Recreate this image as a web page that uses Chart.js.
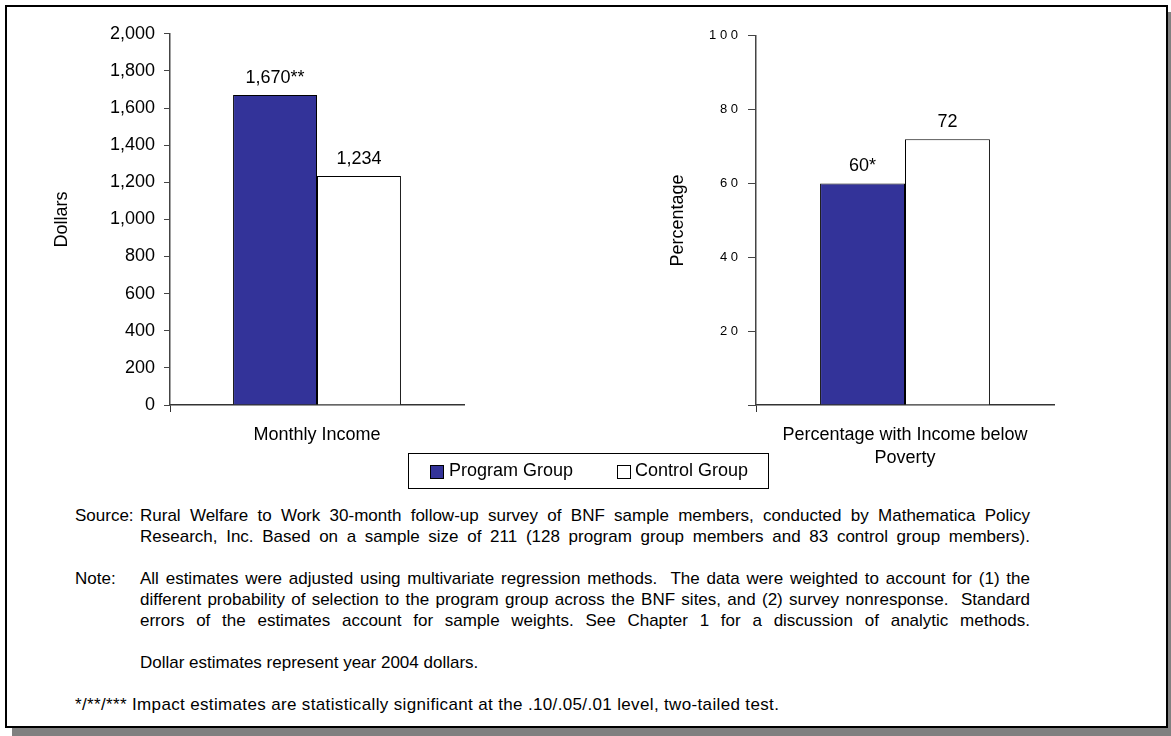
<!DOCTYPE html>
<html lang="en">
<head>
<meta charset="UTF-8">
<title>Monthly Income and Poverty</title>
<script src="https://cdn.jsdelivr.net/npm/chart.js"></script>
<style>
    body { margin: 0; background: #fff; font-family: "Liberation Sans", Arial, sans-serif; }
    #shadow { position: absolute; left: 12px; top: 12px; width: 1159px; height: 724px; background: #808080; }
    #frame { position: absolute; left: 5px; top: 5px; width: 1163px; height: 723px; box-sizing: border-box; border: 2px solid #000; background: #fff; }
    .box { position: absolute; }
    #legend { position: absolute; left: 408px; top: 453px; width: 361px; height: 36px; box-sizing: border-box; border: 1px solid #000; font-size: 18px; }
    #legend span.sw { position: absolute; top: 11px; width: 14px; height: 14px; box-sizing: border-box; border: 1px solid #000; }
    #legend span.tx { position: absolute; top: 6px; white-space: nowrap; }
    .notes { position: absolute; font-size: 17px; line-height: 21px; color: #000; }
    .lbl { position: absolute; left: 75px; white-space: nowrap; }
    .txt { position: absolute; left: 140px; width: 890px; }
    .txt div { white-space: nowrap; }
    .txt div.j { text-align: justify; text-align-last: justify; }
</style>
</head>
<body>
<div id="shadow"></div>
<div id="frame"></div>

<div class="box" style="left:20px;top:14px;width:450px;height:436px"><canvas id="incomeChart"></canvas></div>
<div class="box" style="left:600px;top:18px;width:470px;height:462px"><canvas id="povertyChart"></canvas></div>

<div id="legend">
    <span class="sw" style="left:21px;background:#333399"></span><span class="tx" style="left:40px">Program Group</span>
    <span class="sw" style="left:208px;background:#fff"></span><span class="tx" style="left:226px">Control Group</span>
</div>

<div class="notes" style="top:505px;left:0;width:1171px">
    <div class="lbl">Source:</div>
    <div class="txt">
        <div class="j">Rural Welfare to Work 30-month follow-up survey of BNF sample members, conducted by Mathematica Policy</div>
        <div class="j">Research, Inc. Based on a sample size of 211 (128 program group members and 83 control group members).</div>
    </div>
</div>
<div class="notes" style="top:568px;left:0;width:1171px">
    <div class="lbl">Note:</div>
    <div class="txt">
        <div class="j">All estimates were adjusted using multivariate regression methods.&nbsp; The data were weighted to account for (1) the</div>
        <div class="j">different probability of selection to the program group across the BNF sites, and (2) survey nonresponse.&nbsp; Standard</div>
        <div class="j">errors of the estimates account for sample weights. See Chapter 1 for a discussion of analytic methods.</div>
    </div>
</div>
<div class="notes" style="top:652px;left:0;width:1171px">
    <div class="txt">Dollar estimates represent year 2004 dollars.</div>
</div>
<div class="notes" style="top:694px;left:0;width:1171px">
    <div class="lbl" style="letter-spacing:0.35px">*/**/*** Impact estimates are statistically significant at the .10/.05/.01 level, two-tailed test.</div>
</div>

<script>
    // data
    var groups = ['Program Group', 'Control Group'];
    var groupColors = ['#333399', '#ffffff'];

    var incomeCategory = ['Monthly Income'];
    var incomeProgram = [1670];
    var incomeControl = [1234];
    var incomeStars = [['**'], ['']];
    var incomeTicks = [0, 200, 400, 600, 800, 1000, 1200, 1400, 1600, 1800, 2000];

    var povertyCategory = [['Percentage with Income below', 'Poverty']];
    var povertyProgram = [60];
    var povertyControl = [72];
    var povertyStars = [['*'], ['']];
    var povertyTicks = [0, 20, 40, 60, 80, 100];

    var FONT = "'Liberation Sans', Arial, sans-serif";

    // values above the bars
    function barLabels(stars) {
        return {
            id: 'barLabels',
            afterDatasetsDraw: function (chart) {
                var ctx = chart.ctx;
                ctx.save();
                ctx.font = '18px ' + FONT;
                ctx.fillStyle = '#000';
                ctx.textAlign = 'center';
                ctx.textBaseline = 'alphabetic';
                chart.data.datasets.forEach(function (ds, i) {
                    var meta = chart.getDatasetMeta(i);
                    meta.data.forEach(function (bar, j) {
                        var txt = ds.data[j].toLocaleString('en-US') + stars[i][j];
                        ctx.fillText(txt, bar.x, bar.y - 12);
                    });
                });
                ctx.restore();
            }
        };
    }

    function makeChart(id, cats, prog, ctrl, ticks, stars, opt) {
        return new Chart(document.getElementById(id), {
            type: 'bar',
            data: {
                labels: cats,
                datasets: [
                    { label: groups[0], data: prog, backgroundColor: groupColors[0], borderColor: '#000', borderWidth: 1 },
                    { label: groups[1], data: ctrl, backgroundColor: groupColors[1], borderColor: '#000', borderWidth: 1 }
                ]
            },
            options: {
                responsive: true,
                maintainAspectRatio: false,
                animation: false,
                categoryPercentage: opt.catPct,
                barPercentage: 1,
                layout: { padding: { top: 0, right: opt.right, left: 0, bottom: 0 } },
                plugins: { legend: { display: false }, tooltip: { enabled: false } },
                scales: {
                    x: {
                        grid: {
                            display: true, drawOnChartArea: false, drawTicks: true, tickLength: 7,
                            tickColor: function (c) { return c.index === 0 ? '#333' : 'rgba(0,0,0,0)'; }
                        },
                        border: { display: true, color: '#333', width: 1.5 },
                        ticks: { color: '#000', padding: 11, font: { size: 18, family: FONT, lineHeight: 1.3 } },
                        afterFit: function (s) { s.height = opt.xh; }
                    },
                    y: {
                        min: 0,
                        max: ticks[ticks.length - 1],
                        afterBuildTicks: function (s) { s.ticks = ticks.map(function (v) { return { value: v }; }); },
                        grid: { display: true, drawOnChartArea: false, drawTicks: true, tickLength: opt.tl, tickColor: '#444' },
                        border: { display: true, color: '#444', width: 1.5 },
                        ticks: {
                            color: '#000', padding: opt.tp,
                            font: { size: opt.tickSize, family: FONT },
                            callback: opt.fmt
                        },
                        title: {
                            display: true, text: opt.title, color: '#000',
                            font: { size: 18, family: FONT },
                            padding: { top: opt.titlePad, bottom: 0 }
                        },
                        afterFit: function (s) { s.width = opt.yw; }
                    }
                }
            },
            plugins: [barLabels(stars)]
        });
    }

    makeChart('incomeChart', incomeCategory, incomeProgram, incomeControl, incomeTicks, incomeStars, {
        catPct: 0.571, right: 6, xh: 45, yw: 150, tl: 6, tp: 9, tickSize: 18,
        title: 'Dollars', titlePad: 31,
        fmt: function (v) { return v.toLocaleString('en-US'); }
    });

    makeChart('povertyChart', povertyCategory, povertyProgram, povertyControl, povertyTicks, povertyStars, {
        catPct: 0.57, right: 16, xh: 75, yw: 156, tl: 8, tp: 10, tickSize: 13,
        title: 'Percentage', titlePad: 67,
        fmt: function (v) { return v === 0 ? '' : String(v).split('').join(' '); }
    });
</script>
</body>
</html>
